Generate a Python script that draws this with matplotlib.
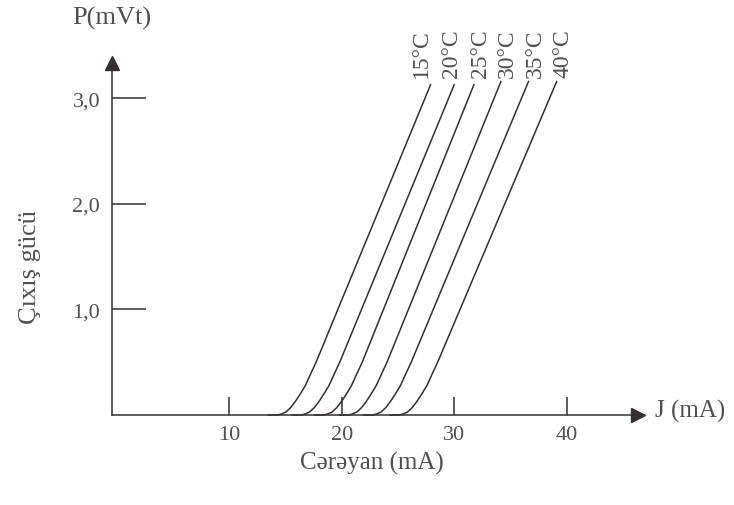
import matplotlib
matplotlib.use("Agg")
import matplotlib.pyplot as plt

plt.rcParams['font.family'] = ['Liberation Serif', 'DejaVu Serif']

# output power vs current, one curve per temperature
temps = ['15°C', '20°C', '25°C', '30°C', '35°C', '40°C']
p_vals = [0, 0, 0.01, 0.03, 0.07, 0.13, 0.20, 0.28, 0.39, 0.50]

j_15 = [13.5, 14.3, 14.68, 15.07, 15.47, 15.9, 16.33, 16.78, 17.25, 17.73, 27.9]
p_15 = p_vals + [3.13]
j_20 = [15.6, 16.4, 16.78, 17.17, 17.57, 18.0, 18.43, 18.88, 19.35, 19.83, 30.0]
p_20 = p_vals + [3.13]
j_25 = [17.6, 18.4, 18.78, 19.17, 19.57, 20.0, 20.43, 20.88, 21.35, 21.83, 31.75]
p_25 = p_vals + [3.13]
j_30 = [19.8, 20.6, 20.98, 21.37, 21.77, 22.2, 22.63, 23.08, 23.55, 24.03, 34.15]
p_30 = p_vals + [3.16]
j_35 = [21.95, 22.75, 23.13, 23.52, 23.92, 24.35, 24.78, 25.23, 25.7, 26.18, 36.6]
p_35 = p_vals + [3.16]
j_40 = [24.3, 25.1, 25.48, 25.87, 26.27, 26.7, 27.13, 27.58, 28.05, 28.53, 39.1]
p_40 = p_vals + [3.16]

label_j = [27.1, 29.8, 32.3, 34.7, 37.2, 39.7]
label_p = 3.2

x_ticks = [10, 20, 30, 40]
y_ticks = [1, 2, 3]
y_tick_labels = ['1,0', '2,0', '3,0']

line_c = '#352f33'
text_c = '#524f51'

fig = plt.figure(figsize=(7.34, 5.06), dpi=100)
ax = fig.add_axes([0.15259, 0.17787, 0.71662, 0.69565])

curves = [(j_15, p_15), (j_20, p_20), (j_25, p_25), (j_30, p_30), (j_35, p_35), (j_40, p_40)]
for (jx, py), t, lj in zip(curves, temps, label_j):
    ax.plot(jx, py, color=line_c, lw=1.1, clip_on=False)
    ax.text(lj, label_p, t, rotation=90, ha='center', va='bottom',
            fontsize=17, color=text_c)

ax.set_xlim(-0.4, 46.33)
ax.set_ylim(0, 3.336)

for s in ['top', 'right']:
    ax.spines[s].set_visible(False)
for s in ['left', 'bottom']:
    ax.spines[s].set_color(line_c)
    ax.spines[s].set_linewidth(1.1)

# arrow heads
ax.plot(0, 1, '^', color=line_c, ms=10, transform=ax.transAxes, clip_on=False)
ax.plot(1, 0, '>', color=line_c, ms=10, transform=ax.transAxes, clip_on=False)

ax.set_xticks(x_ticks)
ax.set_xticklabels([str(v) for v in x_ticks])
ax.set_yticks(y_ticks)
ax.set_yticklabels(y_tick_labels)
ax.tick_params(axis='x', direction='in', length=13, width=1.1, color=line_c,
               labelsize=16, labelcolor=text_c, pad=7)
ax.tick_params(axis='y', direction='in', length=24.5, width=1.1, color=line_c,
               labelsize=16, labelcolor=text_c, pad=8.5)

fig.text(112 / 734, 1 - 18 / 506, 'P(mVt)', ha='center', va='center',
         fontsize=19, color=text_c)
fig.text(655 / 734, 1 - 411 / 506, 'J (mA)', ha='left', va='center',
         fontsize=18, color=text_c)
fig.text(372 / 734, 1 - 463 / 506, 'Cərəyan (mA)', ha='center', va='center',
         fontsize=18, color=text_c)
fig.text(30 / 734, 1 - 267 / 506, 'Çıxış gücü', ha='center', va='center',
         rotation=90, fontsize=19, color=text_c)

fig.savefig('out.png', dpi=100, facecolor='white')
